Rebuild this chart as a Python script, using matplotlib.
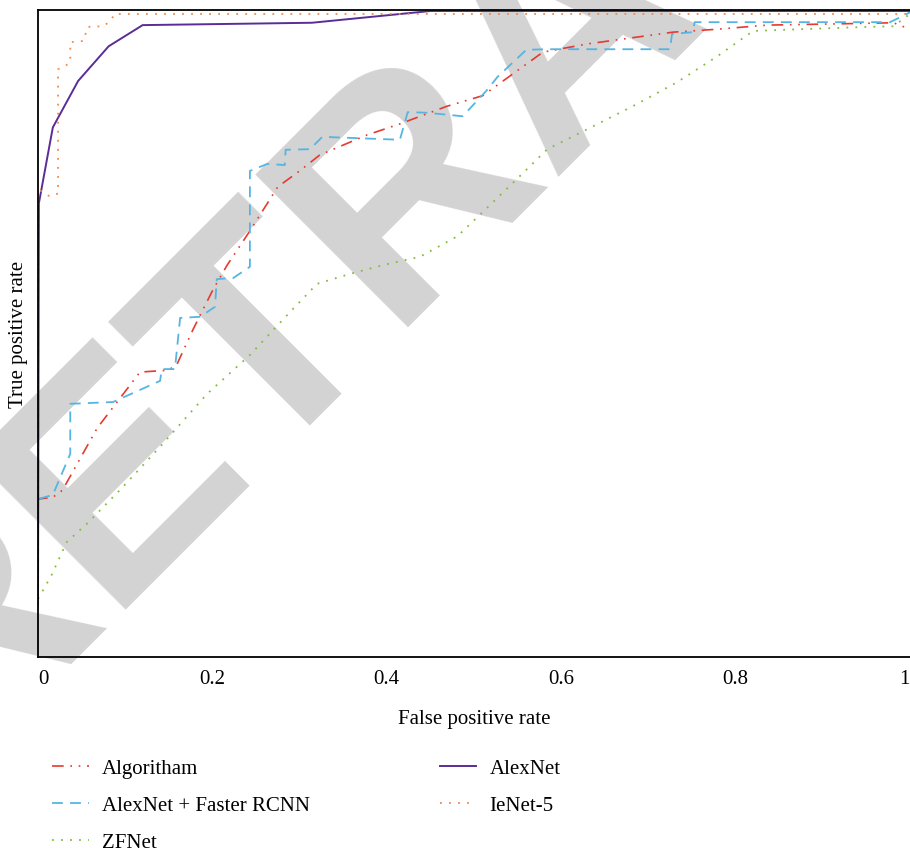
import numpy as np
import matplotlib.pyplot as plt

# ROC curves
alg_fpr = [0, 0, 0.017, 0.028, 0.068, 0.117, 0.149, 0.159, 0.178, 0.201, 0.217, 0.243, 0.275, 0.300,
           0.323, 0.377, 0.415, 0.469, 0.510, 0.579, 0.630, 0.728, 0.779, 0.836, 0.912, 0.981, 1.0]
alg_tpr = [-0.012, 0.170, 0.173, 0.185, 0.291, 0.386, 0.389, 0.398, 0.459, 0.527, 0.568, 0.626, 0.701, 0.728,
           0.755, 0.789, 0.808, 0.838, 0.856, 0.930, 0.944, 0.964, 0.969, 0.976, 0.978, 0.980, 0.969]

frcnn_fpr = [0, 0, 0.017, 0.037, 0.037, 0.086, 0.140, 0.142, 0.157, 0.163, 0.186, 0.203, 0.205, 0.224,
             0.243, 0.243, 0.263, 0.283, 0.284, 0.312, 0.326, 0.415, 0.424, 0.446, 0.487, 0.514, 0.527,
             0.560, 0.583, 0.725, 0.727, 0.751, 0.753, 0.977, 0.994, 1.0]
frcnn_tpr = [-0.012, 0.170, 0.177, 0.247, 0.332, 0.335, 0.371, 0.391, 0.391, 0.478, 0.480, 0.497, 0.544, 0.546,
             0.565, 0.728, 0.740, 0.738, 0.764, 0.765, 0.786, 0.781, 0.828, 0.827, 0.821, 0.864, 0.888,
             0.934, 0.935, 0.935, 0.961, 0.964, 0.981, 0.981, 0.993, 0.998]

zf_fpr = [0, 0.015, 0.033, 0.056, 0.097, 0.140, 0.194, 0.243, 0.289, 0.320, 0.358, 0.396, 0.438,
          0.481, 0.510, 0.549, 0.584, 0.614, 0.682, 0.733, 0.779, 0.820, 0.874, 0.951, 0.981, 1.0]
zf_tpr = [0.0, 0.039, 0.097, 0.128, 0.190, 0.259, 0.349, 0.415, 0.488, 0.536, 0.553, 0.568, 0.582,
          0.617, 0.658, 0.714, 0.765, 0.787, 0.838, 0.879, 0.923, 0.966, 0.969, 0.973, 0.974, 0.995]

alex_fpr = [0, 0.001, 0.017, 0.046, 0.081, 0.120, 0.314, 0.450, 1.0]
alex_tpr = [-0.005, 0.673, 0.802, 0.881, 0.940, 0.976, 0.980, 1.0, 1.0]

le_fpr = [0, 0, 0.013, 0.020, 0.023, 0.023, 0.030, 0.037, 0.037, 0.052, 0.057, 0.075, 0.083, 0.088, 1.0]
le_tpr = [-0.005, 0.697, 0.685, 0.689, 0.689, 0.901, 0.905, 0.913, 0.947, 0.949, 0.973, 0.974, 0.983, 0.995, 0.995]

xticks = [0, 0.2, 0.4, 0.6, 0.8, 1.0]
xtick_labels = ['0', '0.2', '0.4', '0.6', '0.8', '1']

plt.rcParams['font.family'] = 'Liberation Serif'

fig = plt.figure(figsize=(9.10, 8.53), dpi=100)
ax = fig.add_axes([38/910, 1 - 658/853, 872/910, 647/853])
ax.set_facecolor('none')

# watermark behind the plot
fig.text(627/910, 1 - 88/853, 'RETRACTED', family='Liberation Sans', weight='bold',
         fontsize=225, color='#d3d3d3', rotation=45, rotation_mode='anchor',
         ha='center', va='baseline', zorder=-5)

ax.plot(alg_fpr, alg_tpr, color='#e53a2f', lw=1.2, dashes=(7, 4, 1, 4, 1, 4), label='Algoritham')
ax.plot(frcnn_fpr, frcnn_tpr, color='#55b5e2', lw=1.3, dashes=(6, 4), label='AlexNet + Faster RCNN')
ax.plot(zf_fpr, zf_tpr, color='#82bc3c', lw=1.3, dashes=(1, 4), label='ZFNet')
ax.plot(alex_fpr, alex_tpr, color='#5a2d96', lw=1.4, label='AlexNet')
ax.plot(le_fpr, le_tpr, color='#f08a48', lw=1.3, dashes=(1, 4), label='IeNet-5')

ax.set_xlim(0, 1)
ax.set_ylim(-0.0986, 1.0017)
ax.set_xticks(xticks)
ax.set_xticklabels(xtick_labels)
ax.set_yticks([])
ax.tick_params(axis='x', length=0, pad=9, labelsize=15)
tl = ax.get_xticklabels()
tl[0].set_ha('left')
tl[-1].set_ha('right')
ax.spines['right'].set_visible(False)
for s in ['left', 'top', 'bottom']:
    ax.spines[s].set_linewidth(1.3)
ax.set_xlabel('False positive rate', fontsize=15, labelpad=15)
ax.set_ylabel('True positive rate', fontsize=15, labelpad=7)

ax.legend(loc='upper left', bbox_to_anchor=(0.007, -0.144), ncol=2, frameon=False, fontsize=15,
          handlelength=1.75, handletextpad=0.62, columnspacing=6.25, labelspacing=0.84,
          borderaxespad=0)

fig.savefig('out.png', dpi=100)
